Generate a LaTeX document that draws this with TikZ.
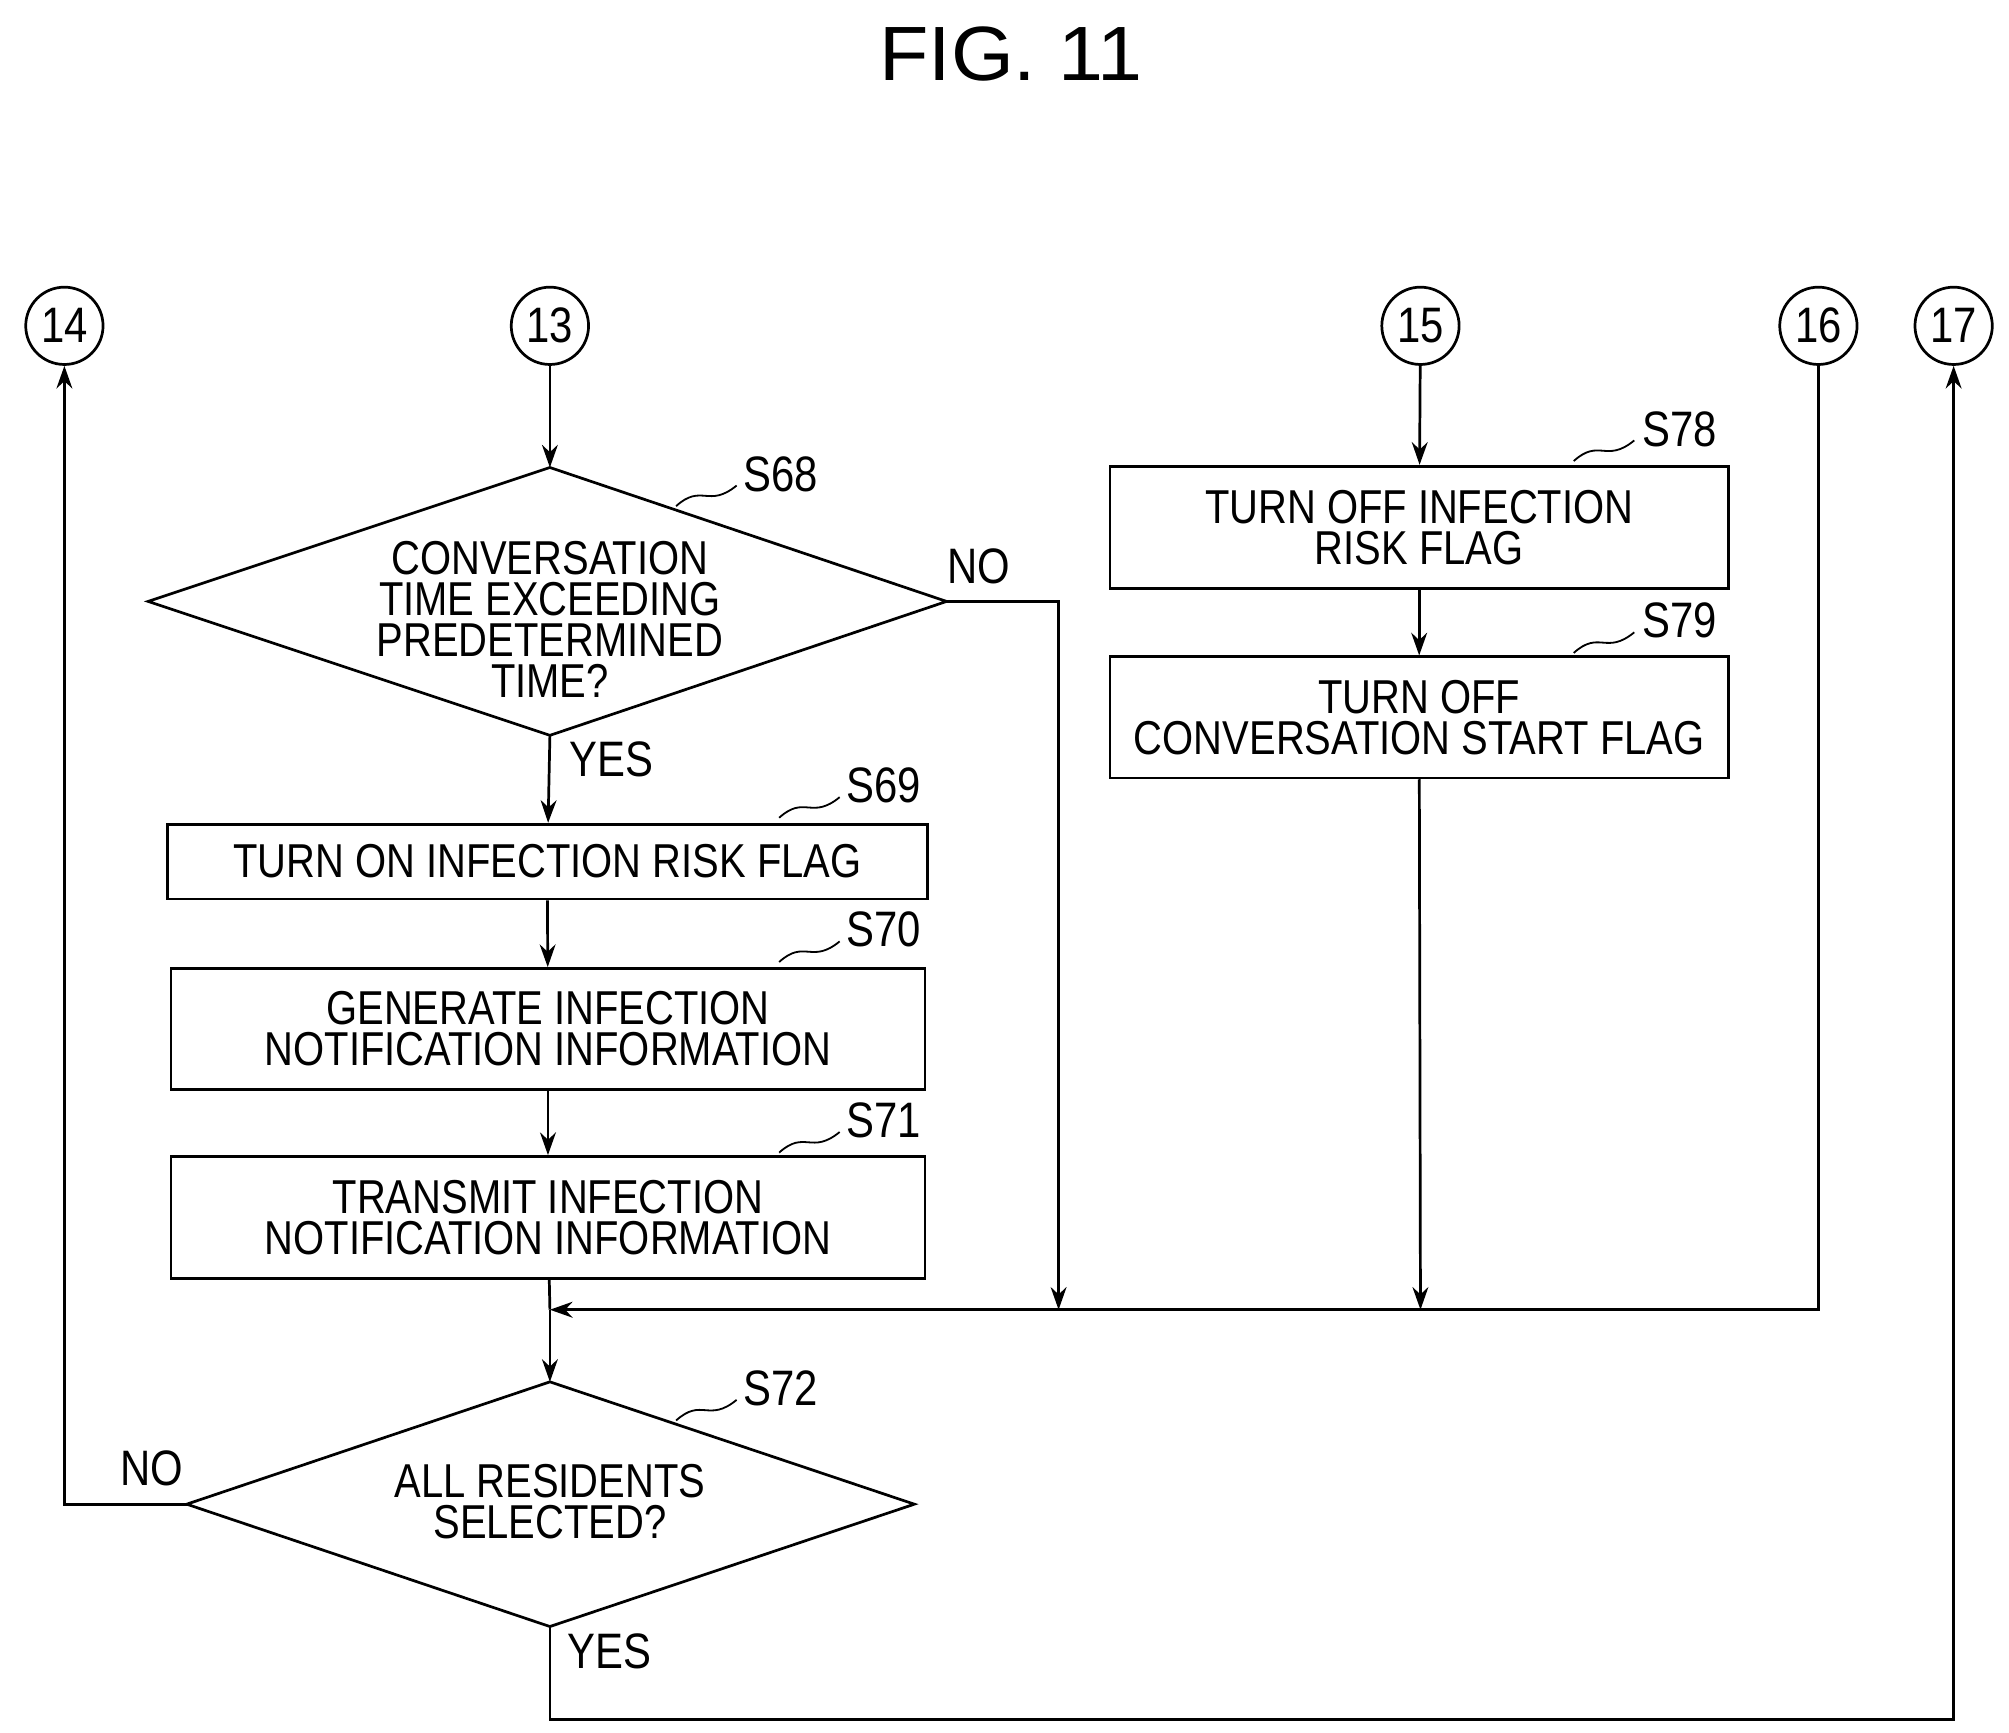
\documentclass[tikz,border=0pt]{standalone}
\usepackage{fontspec}
\setmainfont{Liberation Sans}[FakeStretch=0.84]
\usetikzlibrary{shapes.geometric,arrows.meta}
\begin{document}
\begin{tikzpicture}[x=0.01cm,y=-0.01cm,
  every node/.style={font=\fontsize{10.5}{11}\selectfont, align=center},
  box/.style={draw, semithick, inner sep=0},
  circ/.style={draw, semithick, circle, minimum size=0.6cm, inner sep=0, font=\fontsize{11}{11}\selectfont},
  ln/.style={semithick},
  arr/.style={semithick, -{Stealth[length=5pt,width=3.5pt]}},
  sq/.style={thin},
  lbl/.style={font=\fontsize{11}{11}\selectfont}]
\useasboundingbox (0,0) rectangle (1560,1345.6);
\node[font=\fontsize{17}{17}\selectfont\addfontfeature{FakeStretch=1.05}] (title) at (785,42) {FIG. 11};
\node[circ] (c14) at (50,253) {14};
\node[circ] (c13) at (427,253) {13};
\node[circ] (c15) at (1103,253) {15};
\node[circ] (c16) at (1412,253) {16};
\node[circ] (c17) at (1517,253) {17};
% S68 diamond
\coordinate (d1t) at (427,363); \coordinate (d1r) at (735,467);
\coordinate (d1b) at (427,571); \coordinate (d1l) at (115,467);
\draw[semithick] (d1t)--(d1r)--(d1b)--(d1l)--cycle;
\node (t68) at (427,481) {CONVERSATION\\[-2pt]TIME EXCEEDING\\[-2pt]PREDETERMINED\\[-2pt]TIME?};
\node[lbl] (l68) at (606,368) {S68};
\draw[sq] (525,393) .. controls (545,375) and (550,395) .. (572,377);
% boxes
\node[box, minimum width=5.9cm, minimum height=0.58cm] (s69) at (425,669) {TURN ON INFECTION RISK FLAG};
\node[box, minimum width=5.85cm, minimum height=0.94cm] (s70) at (425.5,799) {GENERATE INFECTION\\[-2pt]NOTIFICATION INFORMATION};
\node[box, minimum width=5.85cm, minimum height=0.95cm] (s71) at (425.5,945.5) {TRANSMIT INFECTION\\[-2pt]NOTIFICATION INFORMATION};
\node[lbl] (l69) at (686,610) {S69};
\draw[sq] (605,635) .. controls (625,617) and (630,637) .. (652,619);
\node[lbl] (l70) at (686,722) {S70};
\draw[sq] (605,747) .. controls (625,729) and (630,749) .. (652,731);
\node[lbl] (l71) at (686,870) {S71};
\draw[sq] (605,895) .. controls (625,877) and (630,897) .. (652,879);
\node[box, minimum width=4.8cm, minimum height=0.95cm] (s78) at (1102,409.5) {TURN OFF INFECTION\\[-2pt]RISK FLAG};
\node[box, minimum width=4.8cm, minimum height=0.94cm] (s79) at (1102,557) {TURN OFF\\[-2pt]CONVERSATION START FLAG};
\node[lbl] (l78) at (1304,333) {S78};
\draw[sq] (1222,358) .. controls (1242,340) and (1247,360) .. (1269,342);
\node[lbl] (l79) at (1304,482) {S79};
\draw[sq] (1222,507) .. controls (1242,489) and (1247,509) .. (1269,491);
% S72 diamond
\coordinate (d2t) at (427,1073); \coordinate (d2r) at (710,1168);
\coordinate (d2b) at (427,1263); \coordinate (d2l) at (145,1168);
\draw[semithick] (d2t)--(d2r)--(d2b)--(d2l)--cycle;
\node (t72) at (427,1166) {ALL RESIDENTS\\[-2pt]SELECTED?};
\node[lbl] (l72) at (606,1078) {S72};
\draw[sq] (525,1103) .. controls (545,1085) and (550,1105) .. (572,1087);
% labels
\node[lbl] (no1) at (760,440) {NO};
\node[lbl] (yes1) at (475,590) {YES};
\node[lbl] (no2) at (118,1140) {NO};
\node[lbl] (yes2) at (473,1282) {YES};
% connectors
\coordinate (m) at (427,1017);
\coordinate (mr) at (822,1017);
\coordinate (m15) at (1103,1017);
\draw[arr] (c13) -- (d1t);
\draw[arr] (d1b) -- (s69);
\draw[arr] (s69) -- (s70);
\draw[arr] (s70) -- (s71);
\draw[ln] (s71) -- (m);
\draw[arr] (m) -- (d2t);
\draw[arr] (d1r) -- (822,467) -- (mr);
\draw[arr] (c15) -- (s78);
\draw[arr] (s78) -- (s79);
\draw[arr] (s79) -- (m15);
\draw[arr] (c16) -- (1412,1017) -- (m);
\draw[arr] (d2l) -- (50,1168) -- (c14);
\draw[arr] (d2b) -- (427,1335) -- (1517,1335) -- (c17);
\end{tikzpicture}
\end{document}
